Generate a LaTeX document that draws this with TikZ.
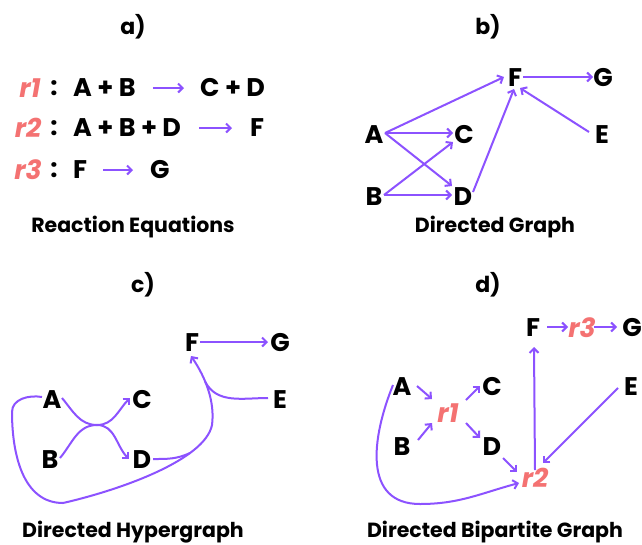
\documentclass[tikz,border=0pt]{standalone}
\usepackage{fontspec}
\setmainfont{Poppins}
\usetikzlibrary{arrows.meta,calc}
\definecolor{vio}{HTML}{8C52FF}
\definecolor{sal}{HTML}{F47272}
\begin{document}
\begin{tikzpicture}[x=1pt,y=-1pt,
  lt/.style={font=\bfseries\fontsize{25.5}{25}\selectfont, inner sep=0pt, text=black},
  rx/.style={font=\bfseries\itshape\fontsize{26.5}{25}\selectfont, inner sep=0pt, text=sal},
  ttl/.style={font=\bfseries\fontsize{22}{22}\selectfont, inner sep=0pt},
  capt/.style={font=\bfseries\fontsize{20.5}{20}\selectfont, inner sep=0pt, anchor=base},
  ln/.style={draw=vio, line width=2pt},
  arr/.style={ln, -{Straight Barb[length=4.5pt,width=9pt]}}]
\useasboundingbox (0,0) rectangle (642,544);
\fill[white] (0,0) rectangle (642,544);

% ---------- a) ----------
\node[ttl] (ta) at (133,27) {a)};
\node[rx] (r1a) at (30,88) {r1};
\node[lt] (c1) at (54,88) {:};
\node[lt,anchor=west] (l1) at (73,88) {A + B};
\node[lt,anchor=west] (p1) at (200,88) {C + D};
\draw[arr] ([xshift=17pt]l1.east) -- ([xshift=-16pt]p1.west);
\node[rx] (r2a) at (28,128) {r2};
\node[lt] (c2) at (54,128) {:};
\node[lt,anchor=west] (l2) at (73,128) {A + B + D};
\node[lt,anchor=west] (p2) at (250,128) {F};
\draw[arr] ([xshift=18pt]l2.east) -- ([xshift=-18pt]p2.west);
\node[rx] (r3a) at (28,170) {r3};
\node[lt] (c3) at (54,170) {:};
\node[lt,anchor=west] (l3) at (73,170) {F};
\node[lt,anchor=west] (p3) at (150,170) {G};
\draw[arr] ([xshift=16pt]l3.east) -- ([xshift=-17pt]p3.west);
\node[capt] (ca) at (133,232) {Reaction Equations};

% ---------- b) ----------
\node[ttl] (tb) at (488,27) {b)};
\node[lt] (Ab) at (374,135) {A};
\node[lt] (Cb) at (464,135) {C};
\node[lt] (Eb) at (602,135) {E};
\node[lt] (Fb) at (515,78) {F};
\node[lt] (Gb) at (603,78) {G};
\node[lt] (Bb) at (374,197) {B};
\node[lt] (Db) at (463,197) {D};
\draw[arr] ($(Ab)+(11,-2)$) -- ($(Fb)+(-11,-1)$);
\draw[arr] ($(Ab)+(11,-2)$) -- ($(Cb)+(-11,-2)$);
\draw[arr] ($(Ab)+(11,-2)$) -- ($(Db)+(-11,-11)$);
\draw[arr] ($(Bb)+(10,-2)$) -- ($(Cb)+(-11,7)$);
\draw[arr] ($(Bb)+(10,-2)$) -- ($(Db)+(-11,-2)$);
\draw[arr] ($(Db)+(10,-5)$) -- ($(Fb)+(-1,11)$);
\draw[arr] ($(Fb)+(8,-1)$) -- ($(Gb)+(-10,-1)$);
\draw[arr] ($(Eb)+(-13,-3)$) -- ($(Fb)+(5,10)$);
\node[capt] (cb) at (495,232) {Directed Graph};

% ---------- c) ----------
\node[ttl] (tc) at (143,285) {c)};
\node[lt] (Fc) at (192,343) {F};
\node[lt] (Gc) at (280,343) {G};
\node[lt] (Ac) at (52,400) {A};
\node[lt] (Cc) at (142,400) {C};
\node[lt] (Ec) at (280,400) {E};
\node[lt] (Bc) at (50,460) {B};
\node[lt] (Dc) at (142,460) {D};
\coordinate (J) at (97,425);
\draw[arr] ($(Fc)+(8,-1)$) -- ($(Gc)+(-12,-1)$);
\draw[ln] ($(Ac)+(10,-2)$) to[out=-50,in=180] (J);
\draw[ln] ($(Bc)+(10,-2)$) to[out=50,in=180] (J);
\draw[arr] (J) to[out=0,in=-135] ($(Cc)+(-12,-2)$);
\draw[arr] (J) to[out=0,in=135] ($(Dc)+(-13,-1)$);
\draw[arr] ($(Ac)+(-10,-3)$) to[out=170,in=90] (12,412)
  to[out=-90,in=180] (63,503)
  .. controls (120,490) and (205,460) .. coordinate[pos=0.72] (m1) (212,425)
  .. controls (215,402) and (206,378) .. coordinate[pos=0.62] (m2) ($(Fc)+(-1,13)$);
\draw[ln] ($(Dc)+(11,-1)$) to[out=0,in=205] (m1);
\draw[ln] ($(Ec)+(-12,-2)$) to[out=180,in=-62] (m2);
\node[capt] (cc) at (133,537) {Directed Hypergraph};

% ---------- d) ----------
\node[ttl] (td) at (488,285) {d)};
\node[lt] (Fd) at (533,328) {F};
\node[rx] (r3d) at (582,328) {r3};
\node[lt] (Gd) at (632,328) {G};
\node[lt] (Ad) at (402,387) {A};
\node[lt] (Cd) at (492,387) {C};
\node[lt] (Ed) at (631,387) {E};
\node[rx] (r1d) at (448,413) {r1};
\node[lt] (Bd) at (402,447) {B};
\node[lt] (Dd) at (492,447) {D};
\node[rx] (r2d) at (535,478) {r2};
\draw[arr] ($(Fd)+(14,-1)$) -- ($(r3d)+(-14,-1)$);
\draw[arr] ($(r3d)+(12,-1)$) -- ($(Gd)+(-15,-1)$);
\draw[arr] ($(Ad)+(15,-1)$) -- ($(r1d)+(-16,-14)$);
\draw[arr] ($(Bd)+(16,-7)$) -- ($(r1d)+(-16,10)$);
\draw[arr] ($(r1d)+(18,-13)$) -- ($(Cd)+(-12,-1)$);
\draw[arr] ($(r1d)+(18,10)$) -- ($(Dd)+(-12,-9)$);
\draw[arr] ($(Dd)+(11,11)$) -- ($(r2d)+(-18,-6)$);
\draw[arr] ($(r2d)+(0,-8)$) -- ($(Fd)+(1,19)$);
\draw[arr] ($(Ed)+(-13,1)$) -- ($(r2d)+(8,-15)$);
\draw[arr] ($(Ad)+(-9,-2)$) to[out=-112,in=180,looseness=1.2] (420,504)
  to[out=0,in=195] ($(r2d)+(-16,5)$);
\node[capt] (cd) at (495,537) {Directed Bipartite Graph};
\end{tikzpicture}
\end{document}
